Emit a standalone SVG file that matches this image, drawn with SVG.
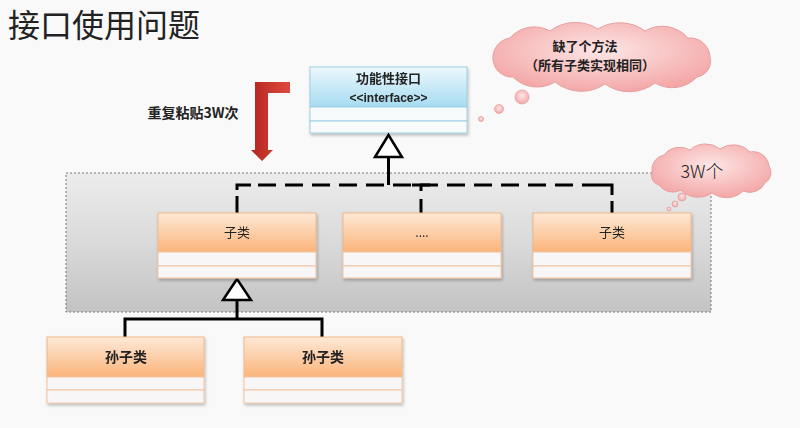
<svg xmlns="http://www.w3.org/2000/svg" width="800" height="428" viewBox="0 0 800 428">
<defs>
<linearGradient id="gCont" x1="0" y1="0" x2="0" y2="1">
<stop offset="0" stop-color="#ececec"/><stop offset="0.5" stop-color="#dadada"/><stop offset="1" stop-color="#c3c3c3"/>
</linearGradient>
<linearGradient id="gOrange" x1="0" y1="0" x2="0" y2="1">
<stop offset="0" stop-color="#fde9d7"/><stop offset="1" stop-color="#fbb47a"/>
</linearGradient>
<linearGradient id="gBlue" x1="0" y1="0" x2="0" y2="1">
<stop offset="0" stop-color="#ecf8fd"/><stop offset="1" stop-color="#a6dbf1"/>
</linearGradient>
<linearGradient id="gRed" x1="0" y1="0" x2="1" y2="0">
<stop offset="0" stop-color="#b42520"/><stop offset="1" stop-color="#df4a3f"/>
</linearGradient>
<radialGradient id="gPink" cx="0.5" cy="0.4" r="0.65">
<stop offset="0" stop-color="#fde6e6"/><stop offset="1" stop-color="#f3a2a2"/>
</radialGradient>
<filter id="sh" x="-5%" y="-10%" width="110%" height="130%">
<feDropShadow dx="1" dy="2" stdDeviation="1.5" flood-color="#000" flood-opacity="0.25"/>
</filter>
</defs>
<style>
.t{font-family:"Noto Sans CJK SC","Noto Sans",sans-serif;fill:#222;text-anchor:middle}
.l{font-family:"Liberation Sans",Arial,sans-serif}
.b{font-weight:bold}
.ob{fill:url(#gOrange);stroke:#f1b88a;stroke-width:1}
.row{fill:#f8f6f6;stroke:#f1c4a0;stroke-width:1}
.ib{fill:url(#gBlue);stroke:#9ccfe2;stroke-width:1}
.irow{fill:#f7fbfc;stroke:#9ccfe2;stroke-width:1}
.cloud{fill:url(#gPink);stroke:#e7a0a0;stroke-width:1}
.bub{fill:url(#gPink);stroke:#e7a0a0;stroke-width:0.8}
.con{fill:none;stroke:#000;stroke-width:3}
.dash{fill:none;stroke:#000;stroke-width:3;stroke-dasharray:18 9}
.tri{fill:#fff;stroke:#000;stroke-width:2.5;stroke-linejoin:miter}
</style>
<rect x="0" y="0" width="800" height="428" fill="#f9f9f9"/>
<text class="t" x="8" y="37" font-size="32" style="text-anchor:start">接口使用问题</text>

<g id="container">
<rect x="66" y="173" width="645" height="139" fill="url(#gCont)" stroke="#777" stroke-width="1" stroke-dasharray="2 2"/>
</g>

<g id="repeat-arrow">
<polygon points="255,82 290,82 290,93 268,93 268,150 273,150 262,161 251,150 255,150" fill="url(#gRed)"/>
<text class="t b" x="193" y="118" font-size="14">重复粘贴3W次</text>
</g>

<g id="interface" filter="url(#sh)">
<rect class="ib" x="310" y="67" width="157" height="40"/>
<rect class="irow" x="310" y="107" width="157" height="14"/>
<rect class="irow" x="310" y="121" width="157" height="12"/>
<text class="t b" x="388.5" y="83" font-size="13">功能性接口</text>
<text class="t l b" x="388.5" y="102" font-size="12">&lt;&lt;interface&gt;&gt;</text>
</g>

<g id="cloud1">
<path class="cloud" d="M493,60 A20,20 0 0 1 510,38 A32,32 0 0 1 550,31 A42,42 0 0 1 598,29 A42,42 0 0 1 645,31 A34,34 0 0 1 688,38 A20,20 0 0 1 710,57 A16,16 0 0 1 697,77 A34,34 0 0 1 655,83 A42,42 0 0 1 605,84 A42,42 0 0 1 555,82 A34,34 0 0 1 513,77 A19,19 0 0 1 493,60 Z"/>
<circle class="bub" cx="522" cy="97" r="7"/>
<circle class="bub" cx="499" cy="109" r="4.5"/>
<circle class="bub" cx="481" cy="119" r="2.5"/>
<text class="t b" x="585" y="51" font-size="13">缺了个方法</text>
<text class="t b" x="590" y="70" font-size="13">（所有子类实现相同）</text>
</g>

<g id="cloud2">
<path class="cloud" d="M652,172 A15,15 0 0 1 664,155 A20,20 0 0 1 690,150 A23,23 0 0 1 720,149 A23,23 0 0 1 750,152 A16,16 0 0 1 769,166 A12,12 0 0 1 765,183 A17,17 0 0 1 743,191 A24,24 0 0 1 712,193 A24,24 0 0 1 681,190 A17,17 0 0 1 659,185 A10,10 0 0 1 652,172 Z"/>
<circle class="bub" cx="682" cy="197" r="4"/>
<circle class="bub" cx="675" cy="204" r="3"/>
<circle class="bub" cx="669" cy="209" r="2"/>
<text class="t" x="702" y="178" font-size="18" style="font-weight:300">3W个</text>
</g>

<g id="connectors">
<line class="con" x1="388.5" y1="157" x2="388.5" y2="185"/>
<path class="con" d="M237,190 V185 H251"/>
<line class="con" x1="237" y1="196" x2="237" y2="213"/>
<line class="dash" x1="258" y1="185" x2="600" y2="185"/>
<path class="con" d="M412,185 H430 M421,185 V191"/>
<line class="con" x1="421" y1="199" x2="421" y2="213"/>
<path class="con" d="M600,185 H612 V195"/>
<line class="con" x1="612" y1="201" x2="612" y2="213"/>
<polygon class="tri" points="388.5,135 375,157 402,157"/>
<line class="con" x1="237" y1="300" x2="237" y2="319"/>
<path class="con" d="M125,337 V319 H322 V337"/>
<polygon class="tri" points="237,279 223,300 251,300"/>
</g>

<g id="sub1" filter="url(#sh)">
<rect class="ob" x="158" y="213" width="158" height="39"/>
<rect class="row" x="158" y="252" width="158" height="14"/>
<rect class="row" x="158" y="266" width="158" height="12"/>
<text class="t" x="237" y="237" font-size="13">子类</text>
</g>
<g id="sub2" filter="url(#sh)">
<rect class="ob" x="343" y="213" width="158" height="39"/>
<rect class="row" x="343" y="252" width="158" height="14"/>
<rect class="row" x="343" y="266" width="158" height="12"/>
<text class="t" x="422" y="237" font-size="12">....</text>
</g>
<g id="sub3" filter="url(#sh)">
<rect class="ob" x="533" y="213" width="158" height="39"/>
<rect class="row" x="533" y="252" width="158" height="14"/>
<rect class="row" x="533" y="266" width="158" height="12"/>
<text class="t" x="612" y="237" font-size="13">子类</text>
</g>
<g id="grand1" filter="url(#sh)">
<rect class="ob" x="47" y="337" width="157" height="40"/>
<rect class="row" x="47" y="377" width="157" height="13"/>
<rect class="row" x="47" y="390" width="157" height="13"/>
<text class="t b" x="126" y="362" font-size="14">孙子类</text>
</g>
<g id="grand2" filter="url(#sh)">
<rect class="ob" x="244" y="337" width="158" height="40"/>
<rect class="row" x="244" y="377" width="158" height="13"/>
<rect class="row" x="244" y="390" width="158" height="13"/>
<text class="t b" x="323" y="362" font-size="14">孙子类</text>
</g>
</svg>
